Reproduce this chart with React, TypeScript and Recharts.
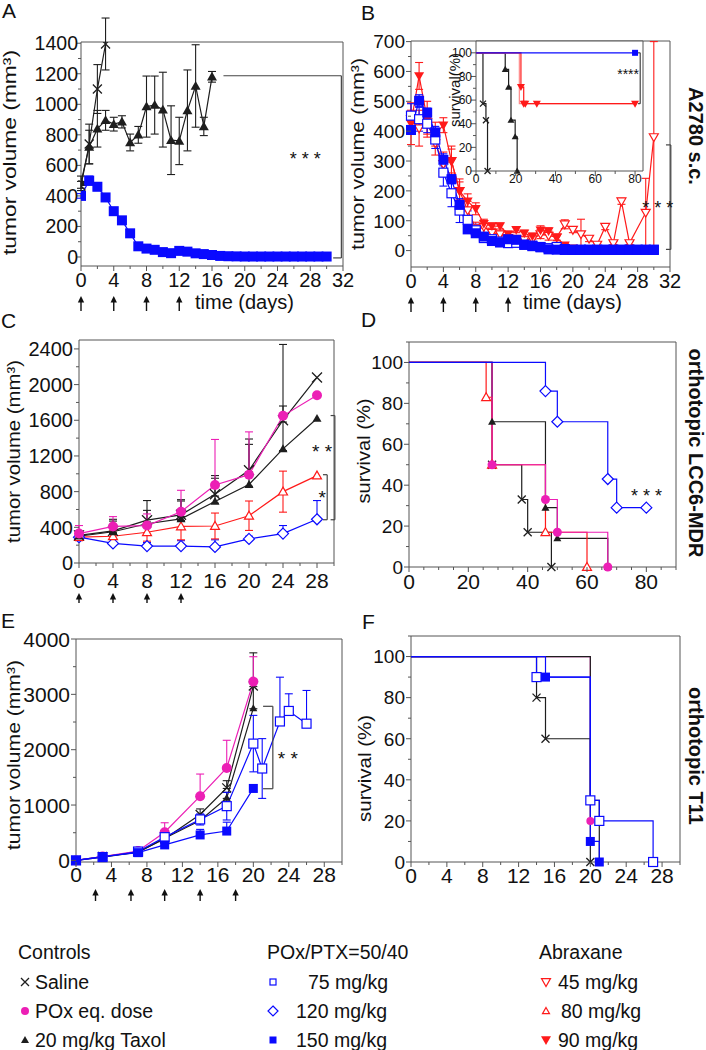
import React from 'react';
import { LineChart, Line, XAxis, YAxis, ErrorBar, ReferenceArea, ReferenceLine, ReferenceDot } from 'recharts';

const W = 706;
const H = 1050;
const FONT = "'Liberation Sans', Arial, Helvetica, sans-serif";
const AX = '#555';
const INK = '#111';
const BLACK = '#1e1e1e';
const PINK = '#ec1fb5';
const BLUE = '#0a0aff';
const RED = '#ff1a1a';
const RED_LIGHT = '#ff8a8a';

type Err = number | [number, number] | null;
type Shape = 'x' | 'dot' | 'up' | 'upOpen' | 'down' | 'downOpen' | 'sq' | 'sqOpen' | 'dia';

// ---- A: A2780 s.c. tumour volume
const aSalineDays = [0, 1, 2, 3];
const aSaline = [465, 740, 1100, 1395];
const aSalineErr: Err[] = [30, 130, 160, 170];
const aTaxolDays = [0, 1, 2, 3, 4, 5, 6, 7, 8, 9, 10, 11, 12, 13, 14, 15, 16];
const aTaxol = [490, 720, 840, 895, 870, 885, 750, 800, 985, 995, 965, 765, 760, 960, 1120, 855, 1180];
const aTaxolErr: Err[] = [40, 110, 120, 65, 45, 40, 55, 55, 200, 190, 245, 225, 155, 265, 270, 60, 35];
const aPoxDays = [0, 1, 2, 3, 4, 5, 6, 7, 8, 9, 10, 11, 12, 13, 14, 15, 16, 17, 18, 19, 20, 21, 22, 23, 24, 25, 26, 27, 28, 29, 30];
const aPox150 = [400, 500, 460, 390, 300, 240, 155, 70, 55, 47, 32, 25, 40, 35, 24, 19, 13, 7, 5, 4, 3, 3, 3, 3, 3, 3, 3, 3, 3, 3, 3];
const aPox150Err: Err[] = [15, 30, 25, 25];
const aDose = [0, 4, 8, 12];

// ---- B: A2780 s.c., POx vs Abraxane
const bDays = [0, 1, 2, 3, 4, 5, 6, 7, 8, 9, 10, 11, 12, 13, 14, 15, 16, 17, 18, 19, 20, 21, 22, 23, 24, 25, 26, 27, 28, 29, 30];
const bPox150 = [404, 502, 462, 396, 304, 239, 153, 71, 58, 47, 32, 27, 38, 36, 19, 17, 11, 4, 3, 2, 2, 2, 2, 2, 2, 2, 2, 2, 2, 2, 2];
const bPox150Err: Err[] = [15, 20, 15, 20, 20, 15, 15, 10, 8, 5, 5, 5, 5, 5];
const bPox75 = [452, 440, 425, 372, 261, 192, 134, 103, 68, 42, 38, 30, 25, 26, 20, 15, 12, 8, 12, 5, 3, 3, 3, 3, 3, 3, 3, 3, 3, 3, 3];
const bPox75Err: Err[] = [40, 40, 30, 30, 45, 45, 40, 30, 20, 10, 10, 8];
const bAbx45 = [440, 410, 430, 360, 290, 300, 200, 135, 75, 80, 60, 55, 42, 40, 35, 38, 55, 50, 45, 88, 70, 55, 40, 20, 80, 25, 165, 25, null, 127, 380];
const bAbx45Err: Err[] = [30, 60, 40, 40, 40, 40, 40, 30, 20, 20, 15, 10, 10, 10, 10, 10, 15, 15, 10, 15, 10, 50, 10, 5, 10, 5, 10, 5, null, 115, [380, 320]];
const bAbx90 = [425, 585, 440, 390, 420, 300, 200, 165, 140, 90, 82, 82, 55, 70, 58, 48, 68, 66, 43, 18, 8, 4, 3, 2, 2, 2, 2, 2, 2, 2, 2];
const bAbx90Err: Err[] = [70, 45, 60, 40, 25, 50, 30, 25, 20, 15, 10, 10, 10, 10, 10, 10, 15, 10, 10, 5];
const bDose = [0, 4, 8, 12];

// ---- B inset: survival (%)
const insSaline = [[0, 100], [3.5, 57], [5, 43], [5.8, 0]];
const insTaxol = [[0, 100], [14.7, 86], [16.4, 71], [17.6, 43], [19.7, 29], [20.7, 0]];
const insAbx45 = [[0, 100], [21.8, 57], [80, 57]];
const insAbx90 = [[0, 100], [22.6, 71], [24, 57], [24.8, 57], [30.6, 57], [80, 57]];
const insPox150 = [[0, 100], [80, 100]];

// ---- C: orthotopic LCC6-MDR tumour volume
const cDays = [0, 4, 8, 12, 16, 20, 24, 28];
const cSaline = [310, 360, 480, 540, 770, 1040, 1600, 2080];
const cSalineErr: Err[] = [[20, 50], [20, 130], [20, 220], [20, 170], [20, 210], [20, 350], [20, 850], null];
const cPox = [330, 410, 420, 575, 875, 990, 1650, 1880];
const cPoxErr: Err[] = [[20, 90], [20, 110], [20, 130], [20, 240], [20, 510], [20, 480], null, null];
const cTaxol = [300, 350, 440, 495, 690, 880, 1280, 1620];
const cTaxolErr: Err[] = [[20, 50], [20, 120], [20, 150], [20, 200], [20, 260], [20, 450], [20, 480], null];
const c80 = [290, 300, 345, 410, 415, 530, 800, 980];
const c80Err: Err[] = [40, 60, 100, 150, 145, 165, 230, null];
const c120 = [290, 220, 190, 190, 180, 270, 330, 490];
const c120Err: Err[] = [[10, 30], [10, 20], [10, 40], [10, 60], [10, 80], [10, 30], [10, 90], [10, 210]];
const cDose = [0, 4, 8, 12];

// ---- D: orthotopic LCC6-MDR survival
const dSaline = [[0, 100], [28, 50], [38, 33], [40, 17], [48, 0]];
const dTaxol = [[0, 100], [28, 71], [46, 29], [50, 14], [67, 0]];
const dAbx80 = [[0, 100], [26, 83], [28, 50], [46, 17], [60, 0]];
const dPox = [[0, 100], [28, 50], [46, 33], [50, 17], [67, 0]];
const dPox120 = [[0, 100], [46, 86], [50, 71], [67, 43], [70, 29], [80, 29]];

// ---- E: orthotopic T11 tumour volume
const eDays = [0, 3, 7, 10, 14, 17, 20];
const eSaline = [0, 70, 150, 390, 830, 1310, 3150];
const eSalineErr: Err[] = [null, null, [10, 20], [10, 60], [10, 100], [10, 130], [10, 600]];
const ePox = [0, 70, 170, 510, 1160, 1670, 3230];
const ePoxErr: Err[] = [null, null, [10, 20], [10, 170], [10, 400], [10, 500], [10, 450]];
const eTaxol = [0, 60, 150, 400, 720, 1130, 2750];
const eTaxolErr: Err[] = [null, null, [10, 20], [10, 50], [10, 80], [10, 100], [10, 500]];
const e75Days = [0, 3, 7, 10, 14, 17, 20, 21, 23, 24, 26];
const e75 = [0, 60, 160, 420, 740, 980, 2110, 1660, 2510, 2700, 2470];
const e75Err: Err[] = [null, null, 20, 60, 100, 250, 510, 540, [10, 800], [10, 310], [10, 600]];
const e150 = [0, 70, 140, 280, 460, 530, 1300];
const e150Err: Err[] = [null, null, null, [10, 30], [10, 100], [10, 160], null];
const eDose = [2.2, 6.2, 10, 14, 18];

// ---- F: orthotopic T11 survival
const fSaline = [[0, 100], [14, 80], [15, 60], [20, 0]];
const fTaxol = [[0, 100], [20, 30], [21, 0]];
const fPox = [[0, 100], [20, 20]];
const fPox75 = [[0, 100], [14, 90], [20, 30], [21, 20], [27, 0]];
const fPox150 = [[0, 100], [15, 90], [20, 10], [21, 0]];

const steps = (a: number, b: number, d: number) => {
  const out: number[] = [];
  for (let v = a; v <= b + 1e-9; v += d) out.push(Math.round(v * 100) / 100);
  return out;
};

const pts = (xs: number[], ys: (number | null)[], es?: Err[]) =>
  xs.map((x, i) => ({ x, y: ys[i], e: es ? es[i] ?? null : null }));
const km = (s: number[][]) => s.map(([x, y]) => ({ x, y, e: null }));

function Marker({ shape, x, y, s, c }: { shape: Shape; x: number; y: number; s: number; c: string }) {
  const h = s / 2;
  switch (shape) {
    case 'x':
      return <path d={`M${x - h},${y - h}L${x + h},${y + h}M${x - h},${y + h}L${x + h},${y - h}`} stroke={c} strokeWidth={1.3} fill="none" />;
    case 'dot':
      return <circle cx={x} cy={y} r={h} fill={c} />;
    case 'up':
      return <path d={`M${x},${y - h}L${x + h},${y + h * 0.75}L${x - h},${y + h * 0.75}Z`} fill={c} />;
    case 'upOpen':
      return <path d={`M${x},${y - h}L${x + h},${y + h * 0.75}L${x - h},${y + h * 0.75}Z`} fill="#fff" stroke={c} strokeWidth={1.2} />;
    case 'down':
      return <path d={`M${x - h},${y - h * 0.75}L${x + h},${y - h * 0.75}L${x},${y + h}Z`} fill={c} />;
    case 'downOpen':
      return <path d={`M${x - h},${y - h * 0.75}L${x + h},${y - h * 0.75}L${x},${y + h}Z`} fill="#fff" stroke={c} strokeWidth={1.2} />;
    case 'sq':
      return <rect x={x - h} y={y - h} width={s} height={s} fill={c} />;
    case 'sqOpen':
      return <rect x={x - h} y={y - h} width={s} height={s} fill="#fff" stroke={c} strokeWidth={1.2} />;
    default:
      return <path d={`M${x},${y - h}L${x + h},${y}L${x},${y + h}L${x - h},${y}Z`} fill="#fff" stroke={c} strokeWidth={1.2} />;
  }
}

const dots = (shape: Shape, c: string, s: number, skipFirst: boolean) => (p: any) => {
  if (p.cx == null || p.cy == null || (skipFirst && p.index === 0)) return <g key={`d${p.index}`} />;
  return <Marker key={`d${p.index}`} shape={shape} x={p.cx} y={p.cy} s={s} c={c} />;
};

const curve = (key: string, data: any[], c: string, shape: Shape | null, s: number, step = false, err = false) => (
  <Line
    key={key}
    data={data}
    dataKey="y"
    type={step ? 'stepAfter' : 'linear'}
    stroke={c}
    strokeWidth={1.2}
    dot={shape ? dots(shape, c, s, step) : false}
    activeDot={false}
    connectNulls
    isAnimationActive={false}
  >
    {err && <ErrorBar dataKey="e" width={4} stroke={c} strokeWidth={1.1} direction="y" />}
  </Line>
);

const xTick = (major: number[], fs: number, gap: number) => (p: any) => {
  const v = p.payload.value;
  const big = major.includes(v);
  return (
    <g>
      <line x1={p.x} x2={p.x} y1={p.y} y2={p.y + (big ? 5 : 3)} stroke={AX} />
      {big && (
        <text x={p.x} y={p.y + gap + fs * 0.72} textAnchor="middle" fontSize={fs} fontFamily={FONT} fill={INK}>
          {v}
        </text>
      )}
    </g>
  );
};

const yTick = (major: number[], fs: number, gap: number) => (p: any) => {
  const v = p.payload.value;
  const big = major.includes(v);
  return (
    <g>
      <line x1={p.x} x2={p.x - (big ? 5 : 3)} y1={p.y} y2={p.y} stroke={AX} />
      {big && (
        <text x={p.x - gap} y={p.y + fs * 0.36} textAnchor="end" fontSize={fs} fontFamily={FONT} fill={INK}>
          {v}
        </text>
      )}
    </g>
  );
};

const arrowTick = (len: number) => (p: any) => (
  <g>
    <line x1={p.x} x2={p.x} y1={p.y + 5} y2={p.y + len} stroke="#111" strokeWidth={1.4} />
    <path d={`M${p.x},${p.y}L${p.x + 3.2},${p.y + 6.5}L${p.x - 3.2},${p.y + 6.5}Z`} fill="#111" />
  </g>
);

interface AxCfg {
  xDom: [number, number];
  yDom: [number, number];
  xTicks: number[];
  xMajor: number[];
  yTicks: number[];
  yMajor: number[];
  fsX: number;
  fsY: number;
  xGap: number;
  yGap: number;
  xH: number;
  dose?: number[];
  arrow?: number;
  clip?: boolean;
}

function axes(c: AxCfg) {
  const els = [
    <XAxis key="x" xAxisId={0} type="number" dataKey="x" domain={c.xDom} ticks={c.xTicks} interval={0}
      allowDataOverflow={c.clip} tick={xTick(c.xMajor, c.fsX, c.xGap)} tickLine={false} tickSize={0}
      tickMargin={0} axisLine={false} height={c.xH} />,
    <YAxis key="y" yAxisId={0} type="number" domain={c.yDom} ticks={c.yTicks} interval={0}
      allowDataOverflow={c.clip} tick={yTick(c.yMajor, c.fsY, c.yGap)} tickLine={false} tickSize={0}
      tickMargin={0} axisLine={false} width={40} />,
  ];
  if (c.dose) {
    // dosing days: a second bottom axis whose ticks are drawn as arrows
    els.push(
      <XAxis key="dose" xAxisId="dose" type="number" dataKey="x" domain={c.xDom} ticks={c.dose} interval={0} allowDataOverflow
        tick={arrowTick(c.arrow ?? 12)} tickLine={false} tickSize={0} tickMargin={0} axisLine={false} height={30} />,
      <Line key="doseLine" xAxisId="dose" data={c.dose.map((x) => ({ x, y: c.yDom[0] }))} dataKey="y"
        stroke="none" dot={false} activeDot={false} isAnimationActive={false} legendType="none" />
    );
  }
  els.push(
    <ReferenceArea key="frame" x1={c.xDom[0]} x2={c.xDom[1]} y1={c.yDom[0]} y2={c.yDom[1]}
      fill="none" stroke={AX} strokeWidth={1} ifOverflow="visible" />
  );
  return els;
}

const bracket = (key: string, x: number, y1: number, y2: number, xTop: number, xBot: number) => [
  <ReferenceLine key={key + 'v'} segment={[{ x, y: y1 }, { x, y: y2 }]} stroke="#444" strokeWidth={1.2} ifOverflow="visible" />,
  <ReferenceLine key={key + 't'} segment={[{ x: xTop, y: y1 }, { x, y: y1 }]} stroke="#444" strokeWidth={1.2} ifOverflow="visible" />,
  <ReferenceLine key={key + 'b'} segment={[{ x: xBot, y: y2 }, { x, y: y2 }]} stroke="#444" strokeWidth={1.2} ifOverflow="visible" />,
];

const stars = (key: string, x: number, y: number, value: string, fs: number) => (
  <ReferenceDot key={key} x={x} y={y} r={1} fill="none" stroke="none" ifOverflow="visible"
    label={{ value, position: 'center', fontSize: fs, fill: INK, fontFamily: FONT }} />
);

function Panel({ box, cfg, children }: { box: number[]; cfg: AxCfg; children?: React.ReactNode }) {
  const [l, t, r, b] = box;
  const xh = cfg.xH + (cfg.dose ? 30 : 0);
  return (
    <div style={{ position: 'absolute', left: 0, top: 0 }}>
      <LineChart width={W} height={H} accessibilityLayer={false}
        margin={{ left: l - 40, top: t, right: W - r, bottom: H - b - xh }}>
        {axes(cfg)}
        {children}
      </LineChart>
    </div>
  );
}

const cfgA: AxCfg = {
  xDom: [0, 32], yDom: [-59, 1408], xTicks: steps(0, 32, 2), xMajor: steps(0, 32, 4),
  yTicks: steps(0, 1400, 100), yMajor: steps(0, 1400, 200), fsX: 20, fsY: 19.5, xGap: 7, yGap: 3,
  xH: 30, dose: aDose, arrow: 15, clip: true,
};
const cfgB: AxCfg = {
  xDom: [0, 32], yDom: [-55, 702], xTicks: steps(0, 32, 2), xMajor: steps(0, 32, 4),
  yTicks: steps(0, 700, 50), yMajor: steps(0, 700, 100), fsX: 20, fsY: 19, xGap: 7, yGap: 6,
  xH: 30, dose: bDose, arrow: 15,
};
const cfgIns: AxCfg = {
  xDom: [0, 84], yDom: [0, 110], xTicks: steps(0, 80, 10), xMajor: steps(0, 80, 20),
  yTicks: steps(0, 100, 10), yMajor: steps(0, 100, 20), fsX: 12, fsY: 12, xGap: 3, yGap: 4, xH: 20,
};
const cfgC: AxCfg = {
  xDom: [0, 30], yDom: [0, 2500], xTicks: steps(0, 30, 2), xMajor: steps(0, 28, 4),
  yTicks: steps(0, 2400, 200), yMajor: steps(0, 2400, 400), fsX: 21, fsY: 20, xGap: 10, yGap: 6,
  xH: 30, dose: cDose, arrow: 10,
};
const cfgD: AxCfg = {
  xDom: [0, 90], yDom: [0, 110], xTicks: steps(0, 90, 5), xMajor: steps(0, 80, 20),
  yTicks: steps(0, 110, 10), yMajor: steps(0, 100, 20), fsX: 21, fsY: 19, xGap: 7, yGap: 6, xH: 30,
};
const cfgE: AxCfg = {
  xDom: [0, 30], yDom: [-29, 4000], xTicks: steps(0, 30, 2), xMajor: steps(0, 28, 4),
  yTicks: steps(0, 4000, 500), yMajor: steps(0, 4000, 1000), fsX: 21, fsY: 21, xGap: 5, yGap: 6,
  xH: 27, dose: eDose, arrow: 12,
};
const cfgF: AxCfg = {
  xDom: [0, 30], yDom: [0, 110], xTicks: steps(0, 30, 2), xMajor: steps(0, 28, 4),
  yTicks: steps(0, 110, 10), yMajor: steps(0, 100, 20), fsX: 21, fsY: 19, xGap: 6, yGap: 6, xH: 30,
};

const VTitle = ({ x, y, len, fs, children }: { x: number; y: number; len: number; fs: number; children: React.ReactNode }) => (
  <text transform={`translate(${x},${y}) rotate(-90)`} textAnchor="middle" fontSize={fs} textLength={len}
    lengthAdjust="spacingAndGlyphs" fill={INK}>
    {children}
  </text>
);

const Side = ({ x, y, children }: { x: number; y: number; children: React.ReactNode }) => (
  <text transform={`translate(${x},${y}) rotate(90)`} textAnchor="middle" fontSize={20} fontWeight="bold" fill={INK}>
    {children}
  </text>
);

const controlsItems: [Shape, string, string, number][] = [['x', BLACK, 'Saline', 35], ['dot', PINK, 'POx eq. dose', 35], ['up', BLACK, '20 mg/kg Taxol', 35]];
const poxItems: [Shape, string, string, number][] = [['sqOpen', BLUE, '75 mg/kg', 308], ['dia', BLUE, '120 mg/kg', 296], ['sq', BLUE, '150 mg/kg', 296]];
const abxItems: [Shape, string, string, number][] = [['downOpen', RED, '45 mg/kg', 558], ['upOpen', RED, '80 mg/kg', 561], ['down', RED, '90 mg/kg', 558]];
const rowY = [989, 1018, 1047];

function LegendCol({ x, title, items, mx, sizes }: { x: number; title: string; items: [Shape, string, string, number][]; mx: number; sizes: number[] }) {
  return (
    <g>
      <text x={x} y={959} fontSize={19.5} fill={INK}>{title}</text>
      {items.map((it, i) => (
        <g key={it[2]}>
          <Marker shape={it[0]} x={mx} y={rowY[i] - 7} s={sizes[i]} c={it[1]} />
          <text x={it[3]} y={rowY[i]} fontSize={19.5} fill={INK}>{it[2]}</text>
        </g>
      ))}
    </g>
  );
}

export default function App() {
  return (
    <div style={{ position: 'absolute', left: 0, top: 0, width: W, height: H, background: '#fff', overflow: 'hidden', fontFamily: FONT }}>
      {/* A */}
      <Panel box={[81, 42, 343, 266]} cfg={cfgA}>
        {curve('aSal', pts(aSalineDays, aSaline, aSalineErr), BLACK, 'x', 9, false, true)}
        {curve('aTax', pts(aTaxolDays, aTaxol, aTaxolErr), BLACK, 'up', 10, false, true)}
        {curve('aPox', pts(aPoxDays, aPox150, aPox150Err), BLUE, 'sq', 10, false, true)}
        {bracket('aBr', 31.8, 1187, -6, 17.4, 30.8)}
        {stars('aSt', 27.4, 645, '* * *', 18)}
      </Panel>

      {/* B */}
      <Panel box={[411, 41, 670, 267]} cfg={cfgB}>
        {curve('b45', pts(bDays, bAbx45, bAbx45Err), RED, 'downOpen', 9, false, true)}
        {curve('b90', pts(bDays, bAbx90, bAbx90Err), RED, 'down', 10, false, true)}
        {curve('b75', pts(bDays, bPox75, bPox75Err), BLUE, 'sqOpen', 9, false, true)}
        {curve('b150', pts(bDays, bPox150, bPox150Err), BLUE, 'sq', 10, false, true)}
        {bracket('bBr', 32.1, 354, 4, 31.5, 31.5)}
        {stars('bSt', 30.5, 144, '* * *', 18)}
      </Panel>

      {/* B inset */}
      <div style={{ position: 'absolute', left: 476, top: 41, width: 167, height: 130, background: '#fff' }} />
      <Panel box={[476, 41, 643, 171]} cfg={cfgIns}>
        {curve('iSal', km(insSaline), BLACK, 'x', 6, true)}
        {curve('iTax', km(insTaxol), BLACK, 'up', 7, true)}
        {curve('i45', km(insAbx45), RED_LIGHT, null, 0, true)}
        {curve('i90', km(insAbx90), RED, 'down', 8, true)}
        {curve('i150', km(insPox150), BLUE, 'sq', 6, true)}
        {bracket('iBr', 82.6, 100, 57, 81.5, 81.5)}
        {stars('iSt', 76.5, 82, '****', 14)}
      </Panel>

      {/* C */}
      <Panel box={[79, 340, 334, 563]} cfg={cfgC}>
        {curve('c120', pts(cDays, c120, c120Err), BLUE, 'dia', 11, false, true)}
        {curve('c80', pts(cDays, c80, c80Err), RED, 'upOpen', 9, false, true)}
        {curve('cTax', pts(cDays, cTaxol, cTaxolErr), BLACK, 'up', 9, false, true)}
        {curve('cSal', pts(cDays, cSaline, cSalineErr), BLACK, 'x', 10, false, true)}
        {curve('cPox', pts(cDays, cPox, cPoxErr), PINK, 'dot', 10, false, true)}
        {bracket('cBr2', 30.1, 1653, 485, 29.6, 29.6)}
        {bracket('cBr1', 29.2, 990, 485, 28.7, 28.7)}
        {stars('cSt2', 28.6, 1250, '* *', 19)}
        {stars('cSt1', 28.6, 735, '*', 19)}
      </Panel>

      {/* D */}
      <Panel box={[409, 342, 676, 567]} cfg={cfgD}>
        {curve('dSal', km(dSaline), BLACK, 'x', 8, true)}
        {curve('dTax', km(dTaxol), BLACK, 'up', 8, true)}
        {curve('d80', km(dAbx80), RED, 'upOpen', 9, true)}
        {curve('dPox', km(dPox), PINK, 'dot', 9, true)}
        {curve('d120', km(dPox120), BLUE, 'dia', 11, true)}
        {stars('dSt', 80.1, 34.8, '* * *', 18)}
      </Panel>

      {/* E */}
      <Panel box={[76, 639, 342, 862]} cfg={cfgE}>
        {curve('eTax', pts(eDays, eTaxol, eTaxolErr), BLACK, 'up', 8, false, true)}
        {curve('eSal', pts(eDays, eSaline, eSalineErr), BLACK, 'x', 9, false, true)}
        {curve('ePox', pts(eDays, ePox, ePoxErr), PINK, 'dot', 10, false, true)}
        {curve('e75', pts(e75Days, e75, e75Err), BLUE, 'sqOpen', 9, false, true)}
        {curve('e150', pts(eDays, e150, e150Err), BLUE, 'sq', 9, false, true)}
        {bracket('eBr', 22.2, 2784, 1295, 21.1, 21.1)}
        {stars('eSt', 23.9, 1843, '* *', 19)}
      </Panel>

      {/* F */}
      <Panel box={[411, 636, 680, 862]} cfg={cfgF}>
        {curve('fPox', km(fPox), PINK, 'dot', 8, true)}
        {curve('fTax', km(fTaxol), BLACK, null, 0, true)}
        {curve('fSal', km(fSaline), BLACK, 'x', 8, true)}
        {curve('f150', km(fPox150), BLUE, 'sq', 9, true)}
        {curve('f75', km(fPox75), BLUE, 'sqOpen', 9, true)}
      </Panel>

      {/* titles, side labels and legend */}
      <svg width={W} height={H} style={{ position: 'absolute', left: 0, top: 0 }} fontFamily={FONT}>
        <text x={2} y={18} fontSize={21} fill={INK}>A</text>
        <text x={361} y={20} fontSize={21} fill={INK}>B</text>
        <text x={1} y={328} fontSize={21} fill={INK}>C</text>
        <text x={361} y={327} fontSize={21} fill={INK}>D</text>
        <text x={1} y={628} fontSize={21} fill={INK}>E</text>
        <text x={362} y={629} fontSize={21} fill={INK}>F</text>

        <VTitle x={15.5} y={152.5} len={205} fs={18}>tumor volume (mm³)</VTitle>
        <VTitle x={364} y={154} len={192} fs={18}>tumor volume (mm³)</VTitle>
        <VTitle x={460} y={90} len={74} fs={14}>survival(%)</VTitle>
        <VTitle x={19.6} y={451.5} len={183} fs={18}>tumor volume (mm³)</VTitle>
        <VTitle x={370} y={451} len={105} fs={18}>survival (%)</VTitle>
        <VTitle x={19.6} y={755} len={190} fs={18}>tumor volume (mm³)</VTitle>
        <VTitle x={371} y={768.5} len={107} fs={18}>survival (%)</VTitle>

        <Side x={689} y={136}>A2780 s.c.</Side>
        <Side x={688.5} y={453}>orthotopic LCC6-MDR</Side>
        <Side x={689} y={756}>orthotopic T11</Side>

        <text x={195} y={309} fontSize={20} fill={INK}>time (days)</text>
        <text x={523} y={309} fontSize={20} fill={INK}>time (days)</text>

        <LegendCol x={18} title="Controls" items={controlsItems} mx={25} sizes={[8, 8, 8]} />
        <LegendCol x={267} title="POx/PTX=50/40" items={poxItems} mx={273} sizes={[6, 10, 7]} />
        <LegendCol x={539} title="Abraxane" items={abxItems} mx={546} sizes={[9, 7, 10]} />
      </svg>
    </div>
  );
}
